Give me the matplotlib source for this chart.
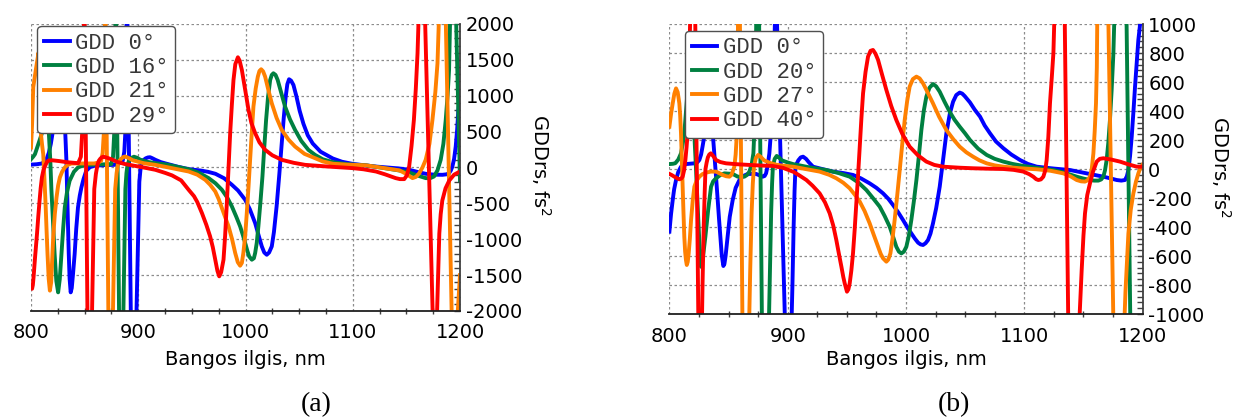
import matplotlib
matplotlib.use("Agg")
import matplotlib.pyplot as plt
from matplotlib.ticker import MultipleLocator

# --- panel (a): GDD vs wavelength, angles 0/16/21/29 deg ---
wl_a0 = [800, 805, 810, 813, 814.5, 816.7, 818.5, 820, 822, 824, 826.5, 829, 831, 832, 833, 833.6,
         834.4, 835.2, 836, 837, 838, 839.2, 840.7, 842.2, 843.8, 845.5, 847, 849, 851.5, 855,
         859, 868, 877.8, 882, 885.5, 887, 888, 889.5, 893.5, 897.5, 901, 902, 903, 905, 907,
         909, 911, 913, 916, 921, 926.5, 937, 947, 958, 965, 972, 980, 987.3, 993, 999.7, 1004,
         1009, 1012.5, 1015.2, 1017.5, 1019.8, 1022, 1024.5, 1026.5, 1029, 1031.5, 1033.8,
         1035.7, 1037.5, 1039, 1040.6, 1042.5, 1044.7, 1047.5, 1050.5, 1054, 1058, 1062.7,
         1070, 1081.5, 1090, 1100, 1120, 1143.5, 1152.6, 1160, 1168, 1176, 1183.6, 1187.5,
         1189.8, 1191.5, 1192.9, 1194.5, 1196, 1197.3, 1198.5, 1200]
gdd_a0 = [40, 45, 55, 85, 116, 210, 330, 470, 800, 1050, 1150, 1000, 700, 464, 100, -280,
          -750, -1200, -1550, -1740, -1680, -1480, -1206, -850, -557, -390, -278, -160, -46, 5,
          23, 33, 37, 55, 93, 220, 500, 2600, -2600, -2600, -200, -40, 60, 105, 128,
          140, 143, 130, 107, 75, 52, 10, -23, -42, -60, -88, -150, -241, -320, -450, -580,
          -775, -960, -1100, -1185, -1216, -1185, -1100, -900, -543, -100, 339,
          700, 988, 1160, 1230, 1210, 1150, 990, 790, 610, 450, 334,
          220, 125, 80, 50, 15, -14, -32, -60, -88, -100, -102, -95,
          -79, -40, 14, 120, 292, 520, 800, 990]

wl_a16 = [800, 802, 803.7, 806.8, 809.9, 811.5, 812.8, 814.5, 815.8, 816.7, 818, 819, 820.5, 822,
          823.6, 825.3, 826.8, 828.4, 830, 831.5, 833.5, 836, 840, 843.8, 848, 853, 865, 874.7,
          876.5, 878, 879, 882.5, 885.5, 888, 889, 890, 891.5, 893, 896, 899, 901.7, 908,
          915.9, 926.5, 937, 947, 956, 965.6, 972, 978, 983, 987.3, 991.5, 995, 997.5, 999.7,
          1001.7, 1003.4, 1005.9, 1007.8, 1009, 1010.5, 1012, 1014, 1015.8, 1017.5, 1019.2,
          1021, 1023, 1024.5, 1026, 1028, 1030, 1033.5, 1036.9, 1041.5, 1046.2, 1052, 1058.6,
          1064.8, 1072, 1081.5, 1095, 1112.5, 1130, 1143.5, 1152.6, 1160, 1168, 1172, 1175.8,
          1179, 1182, 1184.5, 1186.7, 1188.4, 1189.8, 1191.5, 1195.5, 1200]
gdd_a16 = [116, 150, 186, 325, 464, 750, 900, 850, 650, 464, 100, -300, -750, -1200,
           -1580, -1740, -1560, -1206, -850, -557, -350, -186, -60, 0, 25, 37, 43, 46,
           150, 600, 2600, -2600, -2600, -300, -80, 40, 100, 130, 150, 135, 110, 80,
           60, 42, 8, -25, -70, -148, -220, -311, -420, -543, -690, -821, -940, -1053,
           -1160, -1239, -1285, -1265, -1192, -1050, -821, -470, -125, 280, 663,
           980, 1220, 1290, 1313, 1290, 1220, 1030, 849, 670, 524, 370, 246,
           176, 115, 74, 45, 30, -10, -42, -70, -110, -148, -150, -125,
           -40, 107, 330, 663, 1000, 1360, 2600, 2600, -180]

wl_a21 = [800, 801, 802.1, 804.9, 807, 808.5, 809.3, 810.3, 811.4, 812.5, 813.6, 814.5, 815.4,
          816.5, 817.6, 818.8, 820.7, 822.2, 823.8, 825.3, 826.9, 829, 831.5, 834, 837.7, 850,
          859, 863, 865.4, 866.8, 868, 869.2, 872.5, 875.7, 878.5, 879.8, 881, 882.5, 884, 886,
          887.7, 890, 895, 905, 915.9, 930, 947, 955, 962.5, 967, 971.8, 975, 978, 981, 984.2,
          987.5, 990.4, 992.8, 995, 996.6, 998, 999.7, 1001.2, 1002.8, 1004.3, 1005.9, 1007.4,
          1009.5, 1011.5, 1013, 1014.6, 1016.4, 1018.3, 1021, 1024.5, 1029, 1033.8, 1040,
          1046.2, 1055, 1064.8, 1072, 1081.5, 1095, 1112.5, 1130, 1143.5, 1150, 1155.7, 1159,
          1162, 1165, 1168, 1171.5, 1174.3, 1177, 1179, 1181.5, 1186, 1193, 1195.5, 1200]
gdd_a21 = [278, 600, 1118, 1400, 1600, 1100, 464, 320, 186, -150, -510, -870, -1206,
           -1550, -1716, -1600, -974, -650, -418, -250, -139, -60, 0, 35, 56, 56,
           56, 70, 93, 200, 500, 2600, -2600, -2600, -300, -80, 40, 95, 120, 145,
           153, 140, 100, 60, 37, -5, -56, -100, -172, -240, -334, -440, -566, -690, -821,
           -1000, -1192, -1320, -1369, -1330, -1192, -950, -636, -270, 107, 500, 849,
           1100, 1267, 1345, 1369, 1340, 1267, 1100, 895, 690, 524, 390,
           292, 190, 130, 85, 52, 40, 30, -10, -40, -90, -148, -130,
           -79, 0, 107, 330, 663, 1050, 1450, 2600, 2600, -2600, -2600, -1500]

wl_a29 = [800, 801, 801.7, 802.4, 803.8, 805.6, 806.8, 808, 809, 810.2, 811.7, 813.3, 814.8,
          816.4, 820, 826, 833.5, 840, 844, 846.5, 848.5, 849.7, 853, 856.2, 859, 860.5, 862,
          863.3, 864.5, 866, 867.5, 870, 875, 880, 887, 895, 905, 915.9, 925, 931.5, 940, 947,
          952, 955, 959.4, 963.5, 967, 969.5, 971.8, 973.8, 975.5, 977.3, 979.5, 981, 982.6,
          984.2, 985.7, 987.3, 988.8, 990.5, 992.9, 994.5, 996.6, 999.5, 1002.8, 1005.5, 1009,
          1013, 1018.3, 1025, 1033.8, 1045, 1055.5, 1075, 1100, 1110, 1121.7, 1130, 1140, 1144,
          1148, 1150.5, 1152.6, 1154.8, 1157, 1158.8, 1160.4, 1162.5, 1166.5, 1175.5, 1177.5,
          1180.7, 1182, 1183.5, 1186.5, 1190, 1194.5, 1200]
gdd_a29 = [-1667, -1690, -1640, -1528, -1250, -924, -680, -460, -290, -135, -30, 28, 75,
           97, 100, 90, 74, 65, 60, 150, 700, 2600, -2600, -2600, -300, -90, 40,
           95, 120, 142, 150, 140, 115, 80, 50, 28, 0, -32, -75, -110, -180, -311,
           -400, -480, -636, -800, -960, -1110, -1285, -1440, -1517, -1460, -1285, -950, -496,
           0, 478, 880, 1220, 1440, 1536, 1490, 1360, 1100, 803, 620, 478,
           350, 246, 170, 107, 65, 37, 15, -9, -25, -56, -95, -148, -162,
           -162, -110, 14, 300, 663, 1100, 1591, 2600, 2600, -2600, -2600,
           -922, -650, -460, -290, -181, -100, -55]

# --- panel (b): GDD vs wavelength, angles 0/20/27/40 deg ---
wl_b0 = [800, 801.4, 802.8, 804, 805.6, 807.5, 809.8, 814, 821, 823.5, 825.3, 826.8, 828, 830.4,
         833, 835, 836.6, 838, 839.4, 840.7, 842, 843.2, 844.2, 845.6, 846.5, 847.5, 849.2, 851,
         853.5, 856, 859.2, 862, 866.2, 873.3, 876.5, 878.9, 880.5, 881.7, 883, 884.5, 885.8,
         887, 888.3, 890, 898.5, 902.5, 904, 905, 905.8, 906.5, 907.5, 909, 911, 913, 915.5,
         918, 921.4, 930, 938.3, 947, 955.2, 962, 969.3, 975, 980.6, 985, 989, 993.5, 997.5,
         1001, 1004.5, 1007.5, 1010.2, 1012.3, 1014.4, 1016.5, 1018.6, 1020.7, 1022.8, 1025.5,
         1028.5, 1031.3, 1034.1, 1037, 1039.8, 1042.5, 1045.4, 1047.5, 1049.6, 1054, 1058,
         1062.6, 1066.5, 1071, 1076, 1082.3, 1089, 1096.4, 1103, 1110.5, 1125, 1138.6, 1152.7,
         1166.8, 1173, 1178.1, 1182, 1185.1, 1186.7, 1188, 1189.4, 1190.8, 1192.2, 1193.6, 1195,
         1196.4, 1197.9, 1200]
gdd_b0 = [-432, -310, -214, -140, -76, -20, 16, 34, 39, 45, 62, 100, 154, 269,
          450, 430, 250, 100, -50, -200, -350, -480, -590, -669, -655, -600, -467, -330,
          -214, -130, -76, -50, -34, -34, -45, -53, -48, -30, 20, 108, 250,
          400, 700, 1300, -1300, -1300, -800, -400, -150, 0, 35, 60, 80, 85, 70,
          45, 16, -2, -18, -28, -41, -65, -99, -130, -168, -205, -248, -300, -352,
          -400, -444, -480, -508, -520, -524, -512, -490, -445, -375, -270,
          -122, 60, 246, 380, 464, 510, 527, 520, 503, 460, 410,
          361, 300, 246, 190, 143, 100, 62, 35, 16, 3, -7, -30,
          -53, -65, -76, -80, -76, -50, -7, 90, 223, 390, 568, 730,
          890, 1000, 1250]

wl_b20 = [800, 803, 805, 807.5, 809.8, 811.2, 812.6, 815, 818, 820, 821, 822.5, 823.9, 825.3,
          826.7, 828.2, 830.4, 832.8, 835.2, 837, 839.4, 843, 846.5, 853.5, 857.8, 863.4, 865.8,
          867.6, 869.5, 871, 872, 872.8, 873.8, 875.5, 878.5, 883.5, 885, 886, 886.8, 887.5,
          889, 890.7, 892.5, 895, 900, 904.5, 918, 932.7, 943, 952.4, 960, 966.5, 972, 977.8,
          982, 986.2, 989.2, 991.8, 994, 996.1, 998.2, 1000.3, 1002.4, 1004.5, 1006.6, 1008.8,
          1011, 1013, 1015, 1017.2, 1019.8, 1022.8, 1025.5, 1028.5, 1032.5, 1036.9, 1041,
          1045.4, 1050, 1054.1, 1061, 1068.2, 1075, 1082.3, 1090, 1099.2, 1112, 1124.5, 1135,
          1144.3, 1150, 1155.5, 1159, 1162.6, 1165, 1166.8, 1168.2, 1169.6, 1171, 1172.4,
          1173.8, 1175.3, 1177, 1186, 1190, 1200]
gdd_b20 = [34, 36, 40, 65, 108, 170, 246, 500, 550, 400, 250, 0, -260, -500,
           -674, -620, -467, -280, -122, -85, -64, -42, -30, -34, -53, -53, -40,
           -18, 30, 108, 300, 600, 1300, 1300, -1300, -1300, -700, -300, -100, 20,
           70, 90, 80, 60, 45, 34, 12, -7, -28, -53, -95, -145, -200, -260,
           -325, -398, -470, -536, -570, -582, -570, -536, -460, -352, -225, -76,
           100, 269, 400, 499, 560, 586, 570, 533, 465, 395, 340,
           292, 245, 200, 140, 97, 70, 51, 35, 21, 6, -7, -28,
           -53, -66, -76, -80, -80, -72, -53, -10, 62, 180, 338,
           540, 798, 1300, 1300, -1300, -1300]

wl_b27 = [800, 801.4, 802.8, 804.2, 805.6, 807, 808.4, 809.1, 809.8, 810.5, 811.2, 811.9, 812.6,
          813.3, 814, 814.7, 815.5, 816.3, 817.3, 818.3, 819.7, 821.1, 823, 825.3, 828, 831,
          835, 839.4, 842, 845, 848, 850.7, 852.5, 853.8, 854.9, 856, 856.9, 857.6, 858.2,
          859.3, 862, 866.8, 868.3, 869.5, 870.5, 871.5, 873, 875, 877, 880, 885, 890, 897,
          904.5, 915, 927, 935, 941.1, 947, 952.4, 957, 960.9, 965, 969.3, 973, 976.4, 978.6,
          980.6, 983.4, 985, 986.8, 988.6, 990.4, 992.6, 994.7, 996.8, 998.9, 1001, 1003.1,
          1005.8, 1008.8, 1011.5, 1014.4, 1018.5, 1022.8, 1028, 1034.1, 1040, 1045.4, 1051,
          1056.7, 1062, 1068.2, 1075, 1082.3, 1095, 1110.5, 1122, 1133, 1139, 1144.3, 1148,
          1151.3, 1153.5, 1155.5, 1157, 1158.4, 1159.5, 1160.6, 1161.3, 1162, 1170.5, 1175.8,
          1183.5, 1185.5, 1188, 1190, 1192.2, 1194.3, 1196.4, 1198, 1200]
gdd_b27 = [292, 380, 453, 520, 556, 530, 453, 370, 246, 70, -122, -300, -467,
           -570, -628, -662, -640, -582, -480, -352, -220, -122, -80, -53, -35, -25,
           -18, -18, -28, -41, -50, -53, -40, -10, 16, 100, 223, 500, 1300,
           1300, -1300, -1300, -700, -300, -100, 20, 75, 97, 85, 60, 42, 30, 22,
           16, 0, -18, -40, -64, -95, -133, -180, -225, -290, -375, -460, -536, -585,
           -616, -639, -625, -582, -480, -352, -180, -7, 170, 338, 470, 568,
           620, 637, 625, 591, 525, 453, 360, 269, 205, 154, 115,
           85, 60, 39, 25, 16, 6, -2, -12, -30, -50, -76, -85,
           -87, -78, -53, 0, 108, 260, 453, 700, 1300, 1300, -1300,
           -1300, -850, -444, -280, -168, -90, -30, 5, 30]

wl_b40 = [800, 802, 804.2, 806.3, 808.4, 810, 811.2, 812.4, 813.5, 814.5, 815.4, 818.3, 821.5,
          824.8, 827, 828, 829, 829.8, 830.5, 831.5, 832.5, 833.7, 835, 837, 839.4, 843, 847.9,
          857, 867.6, 877, 887.3, 896, 905, 910, 915.8, 921, 927, 931.5, 935.5, 938.5, 941.1,
          943.4, 945.4, 947, 948.2, 950.1, 951.3, 952.4, 953.8, 955.2, 956.6, 958, 959.5, 960.9,
          962.3, 963.7, 965.8, 967.9, 970, 972.1, 974.2, 976.4, 979.8, 983.4, 987.5, 991.8, 997,
          1003.1, 1010, 1017.2, 1024, 1031.3, 1045, 1056.7, 1070, 1082.3, 1091, 1099.2, 1104,
          1107.6, 1110, 1111.9, 1114, 1116.1, 1117.7, 1118.9, 1120.3, 1121.7, 1123.3, 1124.6,
          1126.3, 1133.8, 1137.5, 1145, 1146.8, 1148.5, 1150, 1151.3, 1153.2, 1155.5, 1158,
          1161.2, 1163.8, 1166.8, 1173, 1180.9, 1188, 1195, 1200]
gdd_b40 = [-34, -42, -53, -63, -71, -66, -53, -10, 62, 150, 246, 1300, 1300,
           -1300, -1300, -800, -400, -170, 0, 45, 80, 100, 108, 90, 62, 48, 39,
           33, 28, 24, 21, 8, -20, -45, -76, -115, -168, -230, -306, -390, -490,
           -590, -674, -745, -789, -846, -830, -789, -700, -582, -420, -237, -40, 154,
           350, 522, 670, 775, 815, 821, 795, 752, 650, 545, 435, 338, 240,
           154, 95, 51, 28, 16, 9, 5, 2, 0, -6, -18, -35,
           -53, -70, -76, -72, -53, -10, 62, 220, 453, 640, 800,
           1300, 1300, -1300, -1300, -1000, -697, -460, -306, -180, -99, -20,
           51, 70, 74, 66, 51, 32, 16, 16]

labels_a = ["GDD 0°", "GDD 16°", "GDD 21°", "GDD 29°"]
labels_b = ["GDD 0°", "GDD 20°", "GDD 27°", "GDD 40°"]
colors = ["#0000ff", "#008040", "#ff8000", "#ff0000"]

plt.rcParams['font.family'] = 'DejaVu Sans'
plt.rcParams['axes.unicode_minus'] = False

fig = plt.figure(figsize=(12.37, 4.18), dpi=100)
ax_a = fig.add_axes([0.02506, 0.2560, 0.34681, 0.68660])
ax_b = fig.add_axes([0.54115, 0.2488, 0.38254, 0.69378])


def style_axes(ax, ylim, ymajor, yminor, leg_xy):
    ax.set_xlim(800, 1200)
    ax.set_ylim(*ylim)
    ax.xaxis.set_major_locator(MultipleLocator(100))
    ax.xaxis.set_minor_locator(MultipleLocator(25))
    ax.yaxis.set_major_locator(MultipleLocator(ymajor))
    ax.yaxis.set_minor_locator(MultipleLocator(yminor))
    ax.yaxis.tick_right()
    ax.grid(True, which='major', color='#8c8c8c', lw=0.9, ls=(0, (2, 2)))
    ax.spines['left'].set_visible(False)
    ax.spines['top'].set_visible(False)
    ax.spines['bottom'].set_color('#202020')
    ax.spines['bottom'].set_linewidth(1.3)
    ax.spines['right'].set_color('#404040')
    ax.spines['right'].set_linewidth(1.3)
    ax.tick_params(axis='x', which='both', direction='inout', length=4, width=1,
                   color='#404040', labelsize=14, pad=9)
    ax.tick_params(axis='x', which='major', length=0)
    ax.tick_params(axis='y', which='both', direction='in', length=4, width=1,
                   color='#404040', labelsize=14, pad=4)
    ax.set_xlabel("Bangos ilgis, nm", fontsize=14)
    ax.yaxis.set_label_position('right')
    ax.set_ylabel("GDDrs, fs$^2$", fontsize=14, rotation=270)
    leg = ax.legend(loc='upper left', bbox_to_anchor=leg_xy, borderaxespad=0,
                    prop={'family': 'Liberation Mono', 'size': 16},
                    handlelength=1.15, handletextpad=0.25, labelspacing=0.15,
                    borderpad=0.3, fancybox=True, framealpha=1)
    leg.get_frame().set_edgecolor('#505050')
    leg.get_frame().set_linewidth(1.0)
    for t in leg.get_texts():
        t.set_color('#383838')
    return leg


for wl, g, c, lab in zip([wl_a0, wl_a16, wl_a21, wl_a29], [gdd_a0, gdd_a16, gdd_a21, gdd_a29],
                         colors, labels_a):
    ax_a.plot(wl, g, color=c, lw=2.8, label=lab, solid_joinstyle='round')
for wl, g, c, lab in zip([wl_b0, wl_b20, wl_b27, wl_b40], [gdd_b0, gdd_b20, gdd_b27, gdd_b40],
                         colors, labels_b):
    ax_b.plot(wl, g, color=c, lw=2.8, label=lab, solid_joinstyle='round')

style_axes(ax_a, (-2000, 2000), 500, 100, (0.0147, 0.993))
style_axes(ax_b, (-1000, 1000), 200, 40, (0.033, 0.977))

for ax, lx, ly, xly in [(ax_a, 1.189, 0.509, -0.1707), (ax_b, 1.1657, 0.505, -0.1586)]:
    ax.yaxis.set_label_coords(lx, ly)
    ax.yaxis.label.set_va('center')
    ax.xaxis.set_label_coords(0.5, xly)
    ax.xaxis.label.set_va('center')

fig.text(316 / 1237, 1 - 405 / 418, "(a)", family='Liberation Serif', fontsize=20,
         ha='center', va='center')
fig.text(954 / 1237, 1 - 405 / 418, "(b)", family='Liberation Serif', fontsize=20,
         ha='center', va='center')

fig.savefig("out.png", dpi=100)
